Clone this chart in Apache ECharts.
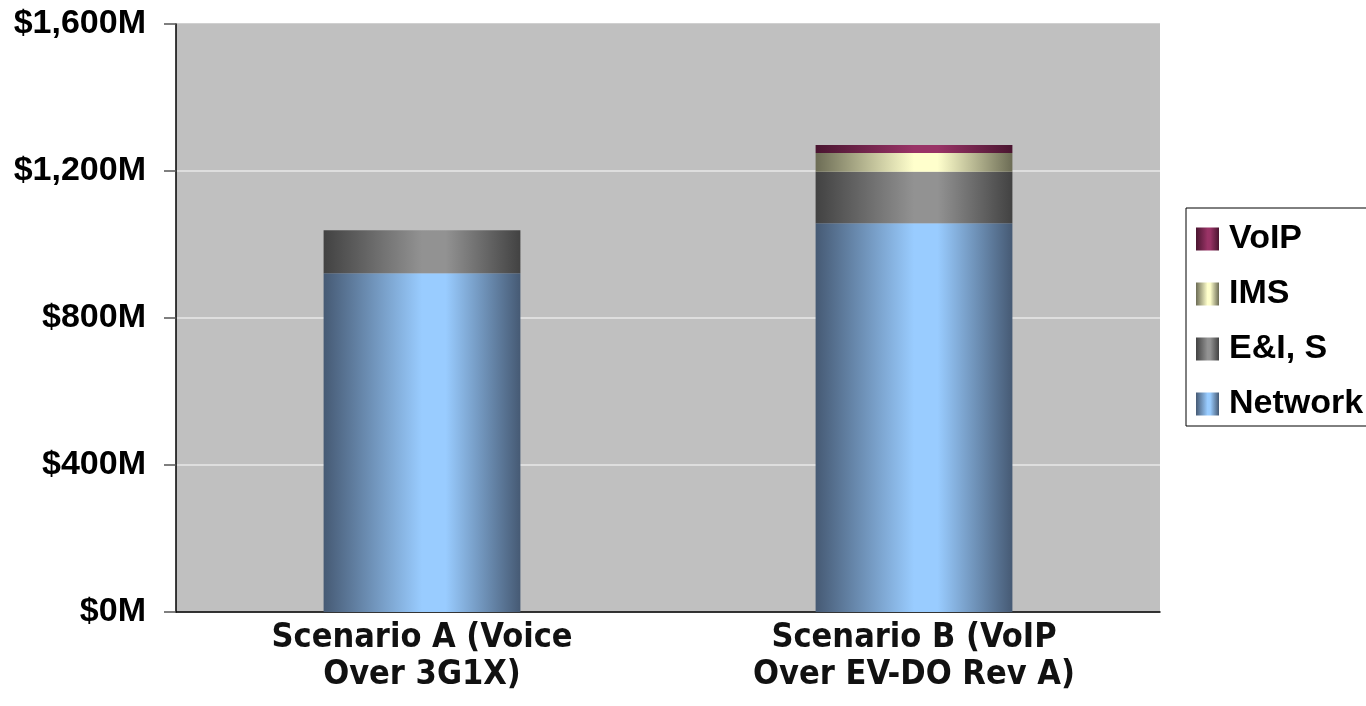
<!DOCTYPE html>
<html><head><meta charset="utf-8">
<script src="https://cdn.jsdelivr.net/npm/echarts@6/dist/echarts.min.js"></script>
<style>html,body{margin:0;padding:0;background:#fff}#c{width:1366px;height:706px}</style>
</head><body><div id="c"></div>
<script>
const categories = ['Scenario A (Voice\nOver 3G1X)', 'Scenario B (VoIP\nOver EV-DO Rev A)'];
const networkValues = [922, 1058];
const eiValues = [117, 140];
const imsValues = [null, 51];
const voipValues = [null, 22];
const yTicks = [0, 400, 800, 1200, 1600];

function grad(dark, light) {
  return new echarts.graphic.LinearGradient(0, 0, 1, 0, [
    {offset: 0, color: dark},
    {offset: 0.5, color: light},
    {offset: 0.62, color: light},
    {offset: 1, color: dark}
  ]);
}
const chart = echarts.init(document.getElementById('c'), null, {renderer: 'canvas'});
const mk = (name, data, dark, light) => ({
  name, type: 'bar', stack: 'total', data, barWidth: '40%',
  itemStyle: {color: grad(dark, light)}
});
chart.setOption({
  animation: false,
  backgroundColor: '#ffffff',
  grid: {left: 176, right: 206, top: 24, bottom: 94, show: true, backgroundColor: '#c0c0c0', borderWidth: 0},
  legend: {
    orient: 'vertical', left: 1186, top: 208,
    data: ['VoIP', 'IMS', 'E&I, S', 'Network'],
    itemWidth: 23, itemHeight: 23, itemGap: 21, padding: [14, 40, 5, 10],
    borderColor: '#000', borderWidth: 1,
    textStyle: {fontFamily: 'Liberation Sans, Arial', fontWeight: 'bold', fontSize: 34, lineHeight: 32, color: '#000', padding: [0, 0, 0, 5]},
    icon: 'rect'
  },
  xAxis: {
    type: 'category', data: categories,
    axisLine: {lineStyle: {color: '#000', width: 1.5}},
    axisTick: {length: 12, lineStyle: {color: '#000', width: 1.5}},
    axisLabel: {fontFamily: 'DejaVu Sans Condensed', fontWeight: 'bold', fontSize: 34, color: '#111', lineHeight: 37, margin: 8}
  },
  yAxis: {
    type: 'value', min: yTicks[0], max: yTicks[yTicks.length - 1], interval: 400,
    axisLine: {show: true, lineStyle: {color: '#000', width: 1.5}},
    axisTick: {show: true, length: 12, lineStyle: {color: '#555', width: 1.5}},
    splitLine: {lineStyle: {color: ['#c0c0c0', '#e8e8e8', '#e8e8e8', '#e8e8e8', '#c0c0c0'], width: 1.5}},
    axisLabel: {
      fontFamily: 'Liberation Sans, Arial', fontWeight: 'bold', fontSize: 34, color: '#000', margin: 30,
      formatter: v => '$' + v.toLocaleString('en-US') + 'M'
    }
  },
  series: [
    mk('Network', networkValues, '#465a74', '#99ccff'),
    mk('E&I, S', eiValues, '#424242', '#929292'),
    mk('IMS', imsValues, '#6c6c55', '#ffffcc'),
    mk('VoIP', voipValues, '#4a1530', '#993366')
  ]
});
</script></body></html>
